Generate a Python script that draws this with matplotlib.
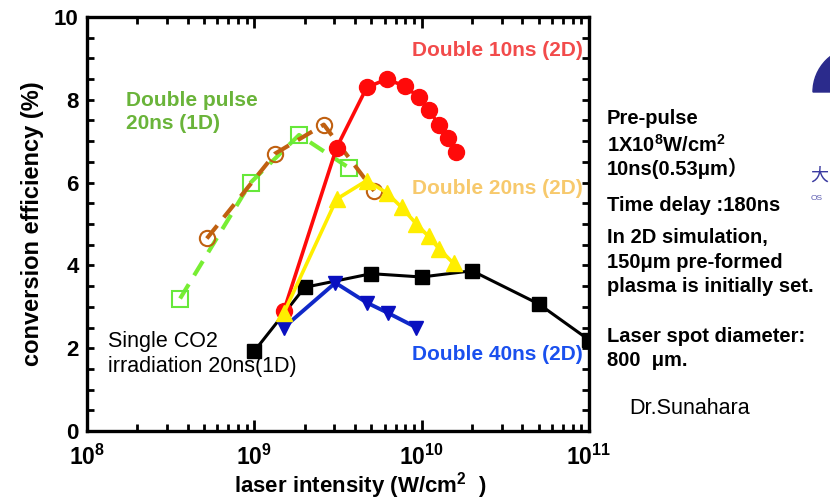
import math
import matplotlib
matplotlib.use("Agg")
import matplotlib.pyplot as plt
from matplotlib.ticker import LogLocator, MultipleLocator, FixedLocator, FuncFormatter
from matplotlib.patches import Wedge
from matplotlib.transforms import IdentityTransform

plt.rcParams['font.family'] = ['Liberation Sans', 'DejaVu Sans']
plt.rcParams['mathtext.fontset'] = 'custom'
plt.rcParams['mathtext.rm'] = 'Liberation Sans'
plt.rcParams['mathtext.bf'] = 'Liberation Sans:bold'

# ---- data ----
single_x = [1e9, 2e9, 5e9, 1e10, 2e10, 5e10, 1e11]
single_y = [1.93, 3.47, 3.8, 3.72, 3.87, 3.07, 2.2]

d40_x = [1.5e9, 3.05e9, 4.7e9, 6.3e9, 9.3e9]
d40_y = [2.5, 3.58, 3.1, 2.85, 2.5]

d10_x = [1.5e9, 3.1e9, 4.7e9, 6.2e9, 7.9e9, 9.6e9, 1.1e10, 1.27e10, 1.44e10, 1.6e10]
d10_y = [2.9, 6.84, 8.3, 8.5, 8.33, 8.07, 7.75, 7.4, 7.08, 6.75]

d20_x = [1.5e9, 3.1e9, 4.7e9, 6.2e9, 7.6e9, 9.3e9, 1.1e10, 1.27e10, 1.55e10]
d20_y = [2.85, 5.6, 6.05, 5.75, 5.4, 5.0, 4.7, 4.4, 4.05]

dp_sq_x = [3.6e8, 9.5e8, 1.85e9, 3.7e9]
dp_sq_y = [3.2, 6.0, 7.15, 6.35]

dp_ci_x = [5.2e8, 1.33e9, 2.6e9, 5.2e9]
dp_ci_y = [4.65, 6.7, 7.4, 5.8]

yticks = [0, 2, 4, 6, 8, 10]
xticks = [1e8, 1e9, 1e10, 1e11]

fig = plt.figure(figsize=(8.3, 5.0), dpi=100)
ax = fig.add_axes([87/830, 69/500, 502/830, 414/500])

ax.plot(dp_sq_x, dp_sq_y, color='#77ee33', lw=3, ls=(0, (4, 2.5)), marker='s',
        ms=11, mfc='none', mec='#66e83a', mew=1.5, zorder=2)
ax.plot(dp_ci_x, dp_ci_y, color='#c06010', lw=3, ls=(0, (4, 2.5)), marker='o',
        ms=11, mfc='none', mec='#c06010', mew=1.5, zorder=3)
ax.plot(single_x, single_y, color='black', lw=2.2, marker='s', ms=10, zorder=4)
ax.plot(d40_x, d40_y, color='#1028c8', lw=2.8, marker='v', ms=10,
        mfc='#0a10c0', mec='#0a10c0', zorder=5)
ax.plot(d10_x, d10_y, color='#ff0a0a', lw=2.6, marker='o', ms=11.5,
        mfc='#ff0a0a', mec='#ff0a0a', zorder=6)
ax.plot(d20_x, d20_y, color='#ffee00', lw=2.6, marker='^', ms=11,
        mfc='#ffee00', mec='#ffee00', zorder=7)

ax.set_xscale('log')
ax.set_xlim(1e8, 1e11)
ax.set_ylim(0, 10)
ax.xaxis.set_major_locator(FixedLocator(xticks))
ax.xaxis.set_minor_locator(LogLocator(base=10, subs=range(2, 10), numticks=20))
ax.xaxis.set_major_formatter(FuncFormatter(
    lambda v, p: r'$\mathbf{10^{%d}}$' % round(math.log10(v))))
ax.yaxis.set_major_locator(FixedLocator(yticks))
ax.yaxis.set_minor_locator(MultipleLocator(0.5))

for s in ax.spines.values():
    s.set_linewidth(2.4)
ax.tick_params(which='both', direction='in', top=True, right=True, width=2)
ax.tick_params(axis='x', which='major', length=8, labelsize=16.5, pad=10)
ax.tick_params(axis='x', which='minor', length=5)
ax.tick_params(axis='y', which='major', length=5, labelsize=16, pad=6)
ax.tick_params(axis='y', which='minor', length=5)
for lab in ax.get_yticklabels():
    lab.set_fontweight('bold')

ax.set_ylabel('conversion efficiency (%)', fontsize=17, fontweight='bold', labelpad=7)
fig.text(360/830, 1 - 486/500, r'laser intensity (W/cm$^{\mathbf{2}}$  )',
         fontsize=16, fontweight='bold', ha='center', va='center')

# series annotations
fig.text(126/830, 1 - 112/500, 'Double pulse\n20ns (1D)', color='#6ab43a',
         fontsize=15, fontweight='bold', ha='left', va='center', linespacing=1.3)
fig.text(583/830, 1 - 50/500, 'Double 10ns (2D)', color='#f24b4b',
         fontsize=15, fontweight='bold', ha='right', va='center')
fig.text(583/830, 1 - 188/500, 'Double 20ns (2D)', color='#f7c96c',
         fontsize=15, fontweight='bold', ha='right', va='center')
fig.text(583/830, 1 - 354/500, 'Double 40ns (2D)', color='#1a50ee',
         fontsize=15, fontweight='bold', ha='right', va='center')
fig.text(108/830, 1 - 354/500, 'Single CO2\nirradiation 20ns(1D)', color='black',
         fontsize=15.5, ha='left', va='center', linespacing=1.25)

# right-hand notes
notes = [
    (118, 'Pre-pulse'),
    (145, r'1X10$^{\mathbf{8}}$W/cm$^{\mathbf{2}}$'),
    (168, '10ns(0.53\u03bcm\uff09'),
    (206, 'Time delay :180ns'),
    (237, 'In 2D simulation,'),
    (262, '150\u03bcm pre-formed'),
    (286, 'plasma is initially set.'),
    (337, 'Laser spot diameter:'),
    (360, '800  \u03bcm.'),
]
for yy, t in notes:
    fig.text(607/830, 1 - yy/500, t, fontsize=14.5, fontweight='bold', ha='left',
             va='center', family=['Liberation Sans', 'Noto Sans CJK JP', 'DejaVu Sans'])
fig.text(629/830, 1 - 409/500, 'Dr.Sunahara', fontsize=15.5, ha='left', va='center')

# partial logo at the right edge
fig.patches.append(Wedge((858, 500 - 92), 45, 90, 180, color='#2b2b8c',
                         transform=IdentityTransform(), figure=fig))
fig.text(810/830, 1 - 176/500, '\u5927', fontsize=13, color='#3a3aa0',
         family=['Noto Sans CJK JP'], ha='left', va='center')
fig.text(811/830, 1 - 199/500, 'OS', fontsize=6, color='#5a5ab0', ha='left', va='center')

fig.savefig('out.png', dpi=100)
